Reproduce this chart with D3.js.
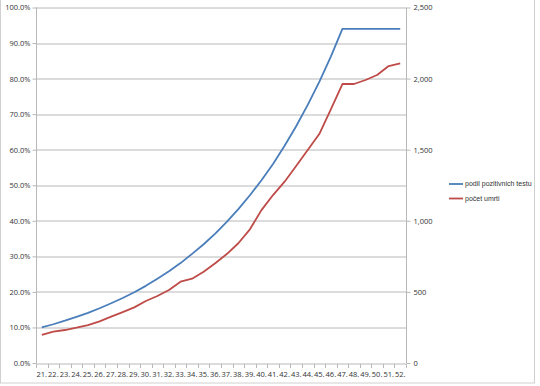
<!DOCTYPE html>
<html>
<head>
<meta charset="utf-8">
<script src="https://cdn.jsdelivr.net/npm/d3@7"></script>
<style>
  body { margin: 0; background: #fff; }
  text { font-family: "Open Sans", "Liberation Sans", sans-serif; fill: #333; }
</style>
</head>
<body>
<div id="chart"></div>
<script>
// weeks on the x axis
const weeks = [21, 22, 23, 24, 25, 26, 27, 28, 29, 30, 31, 32, 33, 34, 35, 36,
               37, 38, 39, 40, 41, 42, 43, 44, 45, 46, 47, 48, 49, 50, 51, 52];

// share of positive tests (%)
const podilPozitivnich = [10.0, 10.9, 11.9, 13.0, 14.1, 15.4, 16.8, 18.3, 19.9, 21.7,
                          23.7, 25.8, 28.1, 30.7, 33.4, 36.4, 39.7, 43.3, 47.2, 51.4,
                          56.0, 61.1, 66.6, 72.6, 79.1, 86.2, 94.0, 94.0, 94.0, 94.0,
                          94.0, 94.0];

// number of deaths
const pocetUmrti = [197, 220, 232, 248, 267, 293, 326, 358, 391, 436,
                    471, 513, 572, 593, 642, 701, 766, 842, 940, 1075,
                    1181, 1275, 1385, 1498, 1610, 1783, 1962, 1962, 1990, 2025,
                    2088, 2107];

const leftTicks = [0, 10, 20, 30, 40, 50, 60, 70, 80, 90, 100];
const rightTicks = [0, 500, 1000, 1500, 2000, 2500];

const series = [
    {name: "podil pozitivnich testu", color: "#4a7ebb", values: podilPozitivnich, axis: "left"},
    {name: "počet umrti", color: "#be4b48", values: pocetUmrti, axis: "right"}
];

const W = 540, H = 386;
const margin = {top: 7.5, right: 134, bottom: 23, left: 36};
const width = W - margin.left - margin.right;
const height = H - margin.top - margin.bottom;

const svg = d3.select("#chart").append("svg")
    .attr("width", W)
    .attr("height", H);

// chart frame
svg.append("rect")
    .attr("x", 0.5).attr("y", -1)
    .attr("width", 534).attr("height", 384)
    .attr("fill", "none")
    .attr("stroke", "#d0d0d0");

const g = svg.append("g")
    .attr("transform", `translate(${margin.left},${margin.top})`);

const x = d3.scaleBand().domain(weeks).range([0, width]);
const yLeft = d3.scaleLinear().domain([0, 100]).range([height, 0]);
const yRight = d3.scaleLinear().domain([0, 2500]).range([height, 0]);

// gridlines
g.append("g")
    .selectAll("line")
    .data(leftTicks.slice(1))
    .join("line")
    .attr("x1", 0).attr("x2", width)
    .attr("y1", d => Math.round(yLeft(d)) + 0.5)
    .attr("y2", d => Math.round(yLeft(d)) + 0.5)
    .attr("stroke", "#b8b8b8");

// left axis
const leftAxis = g.append("g")
    .attr("transform", "translate(0.5,0)")
    .call(d3.axisLeft(yLeft).tickValues(leftTicks)
        .tickFormat(d => d.toFixed(1) + "%").tickSize(4).tickPadding(2));

// right axis
const rightAxis = g.append("g")
    .attr("transform", `translate(${width + 0.5},0)`)
    .call(d3.axisRight(yRight).tickValues(rightTicks)
        .tickFormat(d3.format(",")).tickSize(4).tickPadding(3));

// bottom axis
const bottomAxis = g.append("g")
    .attr("transform", `translate(0,${Math.round(height) + 0.5})`)
    .call(d3.axisBottom(x).tickFormat(d => d + ".").tickSize(0).tickPadding(8));

// small ticks between categories
bottomAxis.append("g")
    .selectAll("line")
    .data(d3.range(weeks.length + 1))
    .join("line")
    .attr("x1", i => Math.round(i * x.step()) + 0.5)
    .attr("x2", i => Math.round(i * x.step()) + 0.5)
    .attr("y1", 0).attr("y2", 4)
    .attr("stroke", "#b8b8b8");

[leftAxis, rightAxis, bottomAxis].forEach(a => {
    a.select(".domain").attr("stroke", "#b8b8b8");
    a.selectAll(".tick line").attr("stroke", "#b8b8b8");
    a.selectAll("text")
        .style("font-size", "7.5px")
        .attr("fill", "#333");
});
bottomAxis.select(".domain").attr("d", `M0,0H${width}`);
leftAxis.select(".domain").attr("d", `M0,0V${height}`);
rightAxis.select(".domain").attr("d", `M0,0V${height}`);

// lines
series.forEach(s => {
    const y = s.axis === "left" ? yLeft : yRight;
    const line = d3.line()
        .x((d, i) => x(weeks[i]) + x.bandwidth() / 2)
        .y(d => y(d));
    g.append("path")
        .datum(s.values)
        .attr("d", line)
        .attr("fill", "none")
        .attr("stroke", s.color)
        .attr("stroke-width", 1.8)
        .attr("stroke-linejoin", "round");
});

// legend
const legend = svg.append("g")
    .attr("transform", "translate(449,184)");
const item = legend.selectAll("g")
    .data(series)
    .join("g")
    .attr("transform", (d, i) => `translate(0,${i * 14.5})`);
item.append("line")
    .attr("x1", 0).attr("x2", 14)
    .attr("stroke", d => d.color)
    .attr("stroke-width", 1.8);
item.append("text")
    .attr("x", 16)
    .attr("dy", "0.32em")
    .style("font-family", "'Liberation Sans', sans-serif")
    .style("font-size", "7px")
    .text(d => d.name);
</script>
</body>
</html>
